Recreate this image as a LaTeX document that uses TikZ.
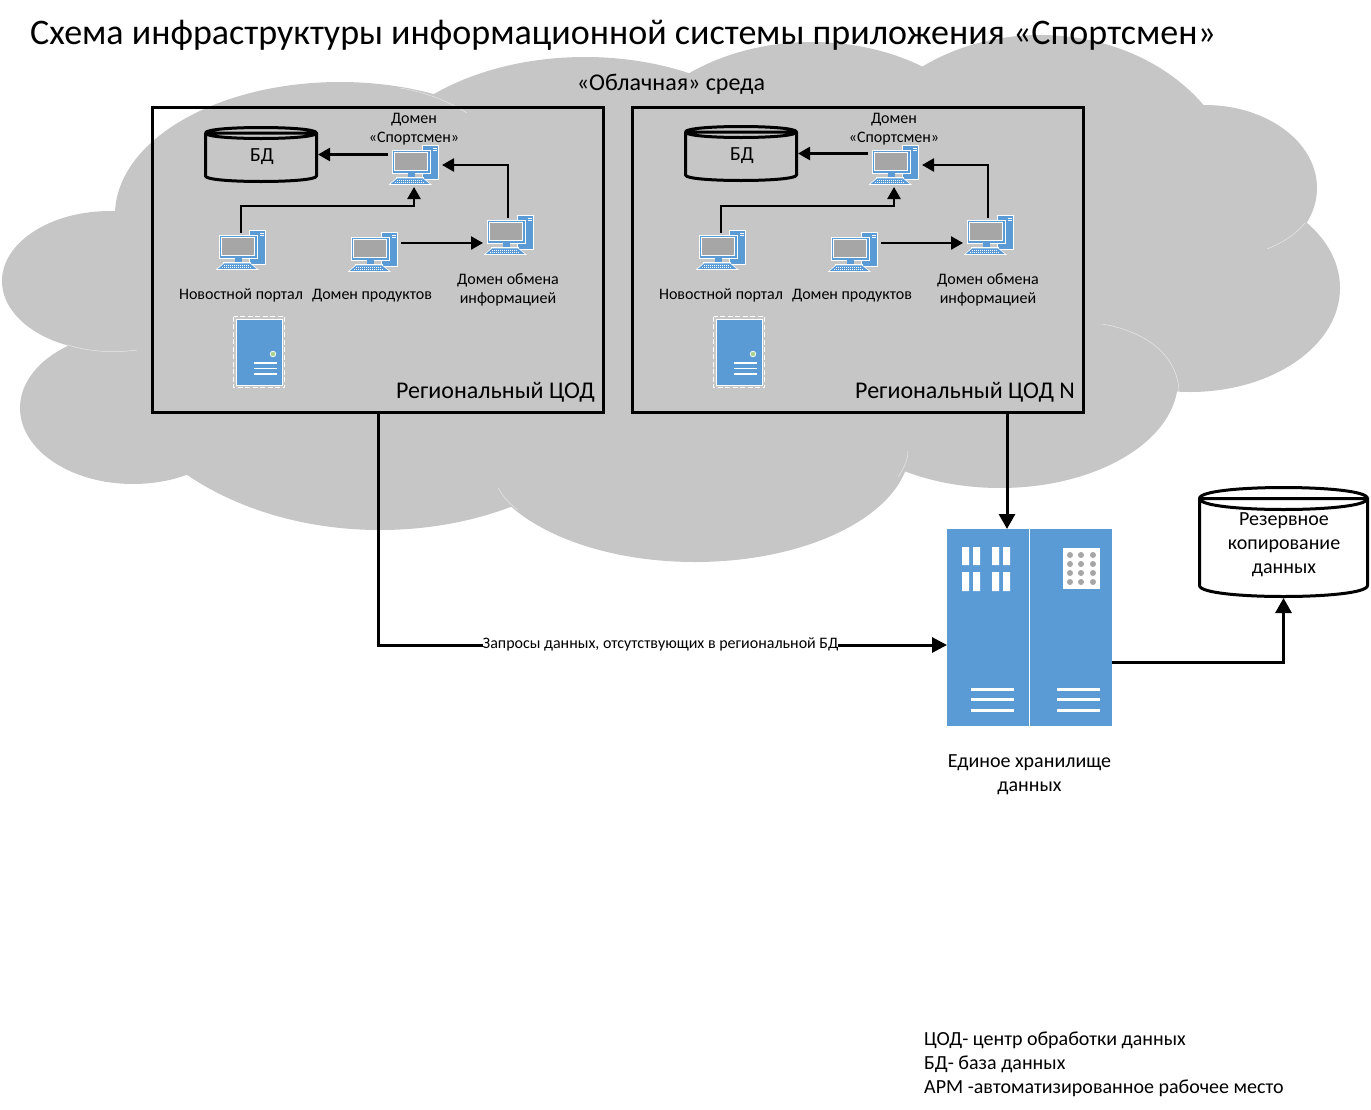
\documentclass[tikz,border=0pt]{standalone}
\usepackage{fontspec}
\setmainfont{Carlito}
\usetikzlibrary{positioning,arrows.meta}
\definecolor{cloudgray}{RGB}{198,198,198}
\definecolor{iconblue}{RGB}{91,155,213}
\definecolor{screengray}{RGB}{166,166,166}
\definecolor{lampgreen}{RGB}{169,209,142}
\tikzset{
  smalltxt/.style={inner sep=0pt,align=center,font=\fontsize{16}{19}\selectfont},
  midtxt/.style={inner sep=0pt,align=center,font=\fontsize{20}{24}\selectfont},
  bigtxt/.style={inner sep=0pt,font=\fontsize{24}{28}\selectfont},
  regionbox/.style={draw,line width=3pt,minimum width=451pt,minimum height=305pt,inner sep=0pt},
  dbbox/.style={rectangle,inner sep=0pt,outer sep=0pt,align=center,append after command={\pgfextra{
    \draw[line width=3pt,line join=round] ([yshift=-#1pt]\tikzlastnode.north west) -- ([yshift=#1pt]\tikzlastnode.south west)
      .. controls ([yshift=-0.333*#1pt]\tikzlastnode.south west) and ([yshift=-0.333*#1pt]\tikzlastnode.south east) .. ([yshift=#1pt]\tikzlastnode.south east)
      -- ([yshift=-#1pt]\tikzlastnode.north east)
      .. controls ([yshift=0.333*#1pt]\tikzlastnode.north east) and ([yshift=0.333*#1pt]\tikzlastnode.north west) .. ([yshift=-#1pt]\tikzlastnode.north west)
      .. controls ([yshift=-2.333*#1pt]\tikzlastnode.north west) and ([yshift=-2.333*#1pt]\tikzlastnode.north east) .. ([yshift=-#1pt]\tikzlastnode.north east)
      ([yshift=-#1pt]\tikzlastnode.north west) -- ([yshift=-#1pt]\tikzlastnode.north east);}}},
  thinarr/.style={-{Triangle[length=12pt,width=13pt]},line width=2.5pt},
  fatarr/.style={-{Triangle[length=15pt,width=16pt]},line width=3pt},
  seam/.style={white,opacity=0.6,line width=0.5pt},
  pcicon/.pic={
    \draw[gray!45,dashed,line width=0.8pt] (2,5) -- (33,5) -- (33,0.5) -- (51,0.5) -- (51,37) -- (38,37) -- (47,43) -- (0,43) -- (2,37) -- cycle;
    \fill[white] (34,1.5) rectangle (50.5,36.5);
    \fill[iconblue] (35,2.5) rectangle (49.5,35.5);
    \draw[white,line width=0.8pt] (45,5) -- (48.5,5) (45,7.5) -- (48.5,7.5);
    \fill[white] (3.5,6.5) rectangle (42.5,30.5);
    \fill[iconblue] (4.5,7.5) rectangle (41.5,29.5);
    \fill[white] (6,9) rectangle (40,28);
    \fill[screengray] (7,10) rectangle (39,27);
    \fill[iconblue] (20,30) rectangle (27,34);
    \fill[white] (8,33.5) rectangle (36,35);
    \fill[iconblue,draw=white,line width=0.6pt] (9,35) -- (35,35) -- (43,41.5) -- (1.5,41.5) -- cycle;
    \draw[white,line width=0.8pt,dash pattern=on 1pt off 1pt] (9,37) -- (35,37) (7,39.3) -- (37,39.3);
  },
  servericon/.pic={
    \draw[white,line width=1pt,dash pattern=on 5pt off 2.5pt] (0.5,0.5) rectangle (51.5,71.5);
    \fill[white] (3,2.5) rectangle (49.5,70);
    \fill[iconblue] (4,3.5) rectangle (48.5,69);
    \fill[lampgreen,draw=white,line width=0.7pt] (40,38) circle (2.8);
    \draw[white,line width=1.2pt] (21,47) -- (44,47) (21,52.5) -- (44,52.5) (21,58) -- (44,58);
  },
  storeicon/.pic={
    \fill[iconblue] (0,0) rectangle (165,197);
    \draw[white,line width=1pt] (82.5,0) -- (82.5,197);
    \fill[white] (15,18) rectangle (22,36) (26,18) rectangle (33,36) (45,18) rectangle (52,36) (56,18) rectangle (63,36);
    \fill[white] (15,43) rectangle (22,62) (26,43) rectangle (33,62) (45,43) rectangle (52,62) (56,43) rectangle (63,62);
    \fill[white] (116,19) rectangle (153,60);
    \foreach \px in {123,134,146}
      \foreach \py in {26,35,44,53}
        \fill[screengray] (\px,\py) circle (3);
    \draw[white,line width=3pt] (24,160) -- (67,160) (24,170) -- (67,170) (24,181) -- (67,181);
    \draw[white,line width=3pt] (110,160) -- (153,160) (110,170) -- (153,170) (110,181) -- (153,181);
  },
  pcbox/.style={rectangle,inner sep=0pt,outer sep=0pt,minimum width=54pt,minimum height=44pt,
    append after command={\pgfextra{\pic at (\tikzlastnode.north west) {pcicon};}}},
  serverbox/.style={rectangle,inner sep=0pt,outer sep=0pt,minimum width=52pt,minimum height=72pt,
    append after command={\pgfextra{\pic at (\tikzlastnode.north west) {servericon};}}},
  storebox/.style={rectangle,inner sep=0pt,outer sep=0pt,minimum width=165pt,minimum height=197pt,
    append after command={\pgfextra{\pic at (\tikzlastnode.north west) {storeicon};}}}
}
\begin{document}
\begin{tikzpicture}[x=1pt,y=-1pt]
  \useasboundingbox (0,0) rectangle (1371,1109);
  % cloud
  \fill[cloudgray] (110,281) ellipse [x radius=108,y radius=70]
    (340,215) ellipse [x radius=225,y radius=133]
    (585,200) ellipse [x radius=225,y radius=143]
    (812,190) ellipse [x radius=200,y radius=148]
    (1040,200) ellipse [x radius=200,y radius=165]
    (1205,188) ellipse [x radius=112,y radius=83]
    (1190,288) ellipse [x radius=150,y radius=104]
    (1000,380) ellipse [x radius=178,y radius=108]
    (695,447) ellipse [x radius=215,y radius=115]
    (380,330) ellipse [x radius=280,y radius=200]
    (133,408) ellipse [x radius=113,y radius=76];
  \fill[cloudgray] (300,200) rectangle (1130,430);
  \draw[seam] (68,345) .. controls (90,352) and (115,353) .. (137,350);
  \draw[seam] (1305,223) .. controls (1295,235) and (1282,243) .. (1267,249);
  \draw[seam] (1102,324) .. controls (1145,331) and (1178,355) .. (1179,392);
  \draw[seam] (898,477) .. controls (904,468) and (908,460) .. (908,451);
  \draw[seam] (518,510) .. controls (509,504) and (503,496) .. (498,488);
  \draw[seam] (400,88) .. controls (425,92) and (448,101) .. (467,113);

  \node[anchor=west,inner sep=0pt,font=\fontsize{36}{40}\selectfont] (title) at (30,35) {Схема инфраструктуры информационной системы приложения «Спортсмен»};
  \node[inner sep=0pt,font=\fontsize{24}{28}\selectfont] (cloudlbl) at (671,84) {«Облачная» среда};

  % first region
  \node[regionbox] (cod1) at (378,259.5) {};
  \node[bigtxt,anchor=east] (cod1lbl) at (595,392) {Региональный ЦОД};
  \node[dbbox=5.5,minimum width=111pt,minimum height=54pt] (bd1) at (261,154.5) {};
  \node[midtxt] (bd1lbl) at (262,157) {БД};
  \node[pcbox] (dom1) at (415,165) {};
  \node[smalltxt] (dom1lbl) at (414,129.5) {Домен\\«Спортсмен»};
  \node[pcbox] (news1) at (242,250) {};
  \node[smalltxt] (news1lbl) at (241,295) {Новостной портал};
  \node[pcbox] (prod1) at (374,252) {};
  \node[smalltxt] (prod1lbl) at (372,296) {Домен продуктов};
  \node[pcbox] (exch1) at (510,235) {};
  \node[smalltxt] (exch1lbl) at (508,289.5) {Домен обмена\\информацией};
  \node[serverbox] (srv1) at (259,352) {};
  \coordinate (prod1out) at ([yshift=-8pt]exch1.west);
  \draw[thinarr,shorten >=1.5pt] (dom1.west |- bd1) -- (bd1.east);
  \draw[thinarr] ([yshift=-5pt]exch1.north -| exch1lbl) |- (dom1.east);
  \draw[thinarr] ([yshift=-5pt]news1.north -| news1lbl) |- ([yshift=-19pt]dom1.south -| dom1lbl) -- (dom1.south -| dom1lbl);
  \draw[thinarr] (prod1.east |- prod1out) -- (prod1out);

  % second region
  \node[regionbox] (cod2) at (858,259.5) {};
  \node[bigtxt,anchor=east] (cod2lbl) at (1075,392) {Региональный ЦОД N};
  \node[dbbox=5.5,minimum width=111pt,minimum height=54pt] (bd2) at (741,153.5) {};
  \node[midtxt] (bd2lbl) at (742,156) {БД};
  \node[pcbox] (dom2) at (895,165) {};
  \node[smalltxt] (dom2lbl) at (894,129.5) {Домен\\«Спортсмен»};
  \node[pcbox] (news2) at (722,250) {};
  \node[smalltxt] (news2lbl) at (721,295) {Новостной портал};
  \node[pcbox] (prod2) at (854,252) {};
  \node[smalltxt] (prod2lbl) at (852,296) {Домен продуктов};
  \node[pcbox] (exch2) at (990,235) {};
  \node[smalltxt] (exch2lbl) at (988,289.5) {Домен обмена\\информацией};
  \node[serverbox] (srv2) at (739,352) {};
  \coordinate (prod2out) at ([yshift=-8pt]exch2.west);
  \draw[thinarr,shorten >=1.5pt] (dom2.west |- bd2) -- (bd2.east);
  \draw[thinarr] ([yshift=-5pt]exch2.north -| exch2lbl) |- (dom2.east);
  \draw[thinarr] ([yshift=-5pt]news2.north -| news2lbl) |- ([yshift=-19pt]dom2.south -| dom2lbl) -- (dom2.south -| dom2lbl);
  \draw[thinarr] (prod2.east |- prod2out) -- (prod2out);

  % storage
  \node[storebox] (store) at (1029.5,627.5) {};
  \node[midtxt] (storelbl) at (1029.5,775) {Единое хранилище\\данных};
  \node[dbbox=11,minimum width=168pt,minimum height=109pt] (backup) at (1283.5,542) {};
  \node[midtxt] (backuplbl) at (1284,545) {Резервное\\копирование\\данных};
  \coordinate (reqout) at (378,412);
  \coordinate (reqin) at (947,645);
  \coordinate (storein) at (1007,529);
  \coordinate (storeout) at (1112,662);
  \draw[fatarr] (storein |- cod2.south) -- (storein);
  \draw[line width=3pt,-{Triangle[length=15pt,width=15pt]}] (reqout) |- (reqin);
  \draw[fatarr,shorten >=1.5pt] (storeout) -| (backup.south);
  \node[inner sep=0pt,fill=white,font=\fontsize{16}{19}\selectfont] (reqlbl) at (660.5,644) {Запросы данных, отсутствующих в региональной БД};

  % legend
  \node[anchor=north west,inner sep=0pt,align=left,font=\fontsize{20}{24}\selectfont] (legend) at (924,1032) {ЦОД- центр обработки данных\\БД- база данных\\АРМ -автоматизированное рабочее место};
\end{tikzpicture}
\end{document}
